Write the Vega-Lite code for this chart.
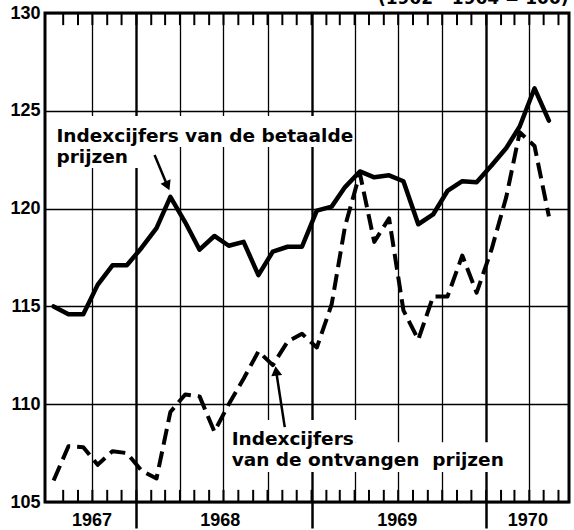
{
  "$schema": "https://vega.github.io/schema/vega-lite/v6.json",
  "width": 524,
  "height": 489,
  "autosize": {"type": "none"},
  "padding": {"left": 45, "top": 13, "right": 5, "bottom": 28},
  "background": "white",
  "view": {"stroke": "black", "strokeWidth": 3},
  "config": {
    "font": "DejaVu Sans",
    "axis": {"gridColor": "black", "tickColor": "black", "domainColor": "black", "labelColor": "black", "labelFont": "Liberation Sans", "labelFontWeight": "bold", "labelFontSize": 18, "labelFlush": false, "labelOverlap": false}
  },
  "datasets": {
    "betaalde": [
      {"month": "1967-07-12", "index": 115.0},
      {"month": "1967-08-12", "index": 114.6},
      {"month": "1967-09-12", "index": 114.6},
      {"month": "1967-10-12", "index": 116.1},
      {"month": "1967-11-12", "index": 117.1},
      {"month": "1967-12-12", "index": 117.1},
      {"month": "1968-01-12", "index": 118.0},
      {"month": "1968-02-12", "index": 119.0},
      {"month": "1968-03-12", "index": 120.6},
      {"month": "1968-04-12", "index": 119.3},
      {"month": "1968-05-12", "index": 117.9},
      {"month": "1968-06-12", "index": 118.6},
      {"month": "1968-07-12", "index": 118.1},
      {"month": "1968-08-12", "index": 118.3},
      {"month": "1968-09-12", "index": 116.6},
      {"month": "1968-10-12", "index": 117.8},
      {"month": "1968-11-12", "index": 118.05},
      {"month": "1968-12-12", "index": 118.05},
      {"month": "1969-01-12", "index": 119.9},
      {"month": "1969-02-12", "index": 120.1},
      {"month": "1969-03-12", "index": 121.1},
      {"month": "1969-04-12", "index": 121.9},
      {"month": "1969-05-12", "index": 121.6},
      {"month": "1969-06-12", "index": 121.7},
      {"month": "1969-07-12", "index": 121.4},
      {"month": "1969-08-12", "index": 119.2},
      {"month": "1969-09-12", "index": 119.7},
      {"month": "1969-10-12", "index": 120.9},
      {"month": "1969-11-12", "index": 121.4},
      {"month": "1969-12-12", "index": 121.35},
      {"month": "1970-01-12", "index": 122.2},
      {"month": "1970-02-12", "index": 123.1},
      {"month": "1970-03-12", "index": 124.2},
      {"month": "1970-04-12", "index": 126.15},
      {"month": "1970-05-12", "index": 124.5}
    ],
    "ontvangen": [
      {"month": "1967-07-12", "index": 106.1},
      {"month": "1967-08-12", "index": 107.85},
      {"month": "1967-09-12", "index": 107.8},
      {"month": "1967-10-12", "index": 106.9},
      {"month": "1967-11-12", "index": 107.6},
      {"month": "1967-12-12", "index": 107.5},
      {"month": "1968-01-12", "index": 106.6},
      {"month": "1968-02-12", "index": 106.2},
      {"month": "1968-03-12", "index": 109.6},
      {"month": "1968-04-12", "index": 110.5},
      {"month": "1968-05-12", "index": 110.4},
      {"month": "1968-06-12", "index": 108.6},
      {"month": "1968-07-12", "index": 110.0},
      {"month": "1968-08-12", "index": 111.3},
      {"month": "1968-09-12", "index": 112.7},
      {"month": "1968-10-12", "index": 112.0},
      {"month": "1968-11-12", "index": 113.2},
      {"month": "1968-12-12", "index": 113.6},
      {"month": "1969-01-12", "index": 112.9},
      {"month": "1969-02-12", "index": 115.1},
      {"month": "1969-03-12", "index": 119.1},
      {"month": "1969-04-12", "index": 121.8},
      {"month": "1969-05-12", "index": 118.3},
      {"month": "1969-06-12", "index": 119.5},
      {"month": "1969-07-12", "index": 114.8},
      {"month": "1969-08-12", "index": 113.3},
      {"month": "1969-09-12", "index": 115.5},
      {"month": "1969-10-12", "index": 115.5},
      {"month": "1969-11-12", "index": 117.6},
      {"month": "1969-12-12", "index": 115.7},
      {"month": "1970-01-12", "index": 117.9},
      {"month": "1970-02-12", "index": 120.6},
      {"month": "1970-03-12", "index": 123.9},
      {"month": "1970-04-12", "index": 123.2},
      {"month": "1970-05-12", "index": 119.6}
    ],
    "ticks": [
      {"tick": "1967-08-01"}, {"tick": "1967-09-01"}, {"tick": "1967-10-01"}, {"tick": "1967-11-01"}, {"tick": "1967-12-01"},
      {"tick": "1968-01-01"}, {"tick": "1968-02-01"}, {"tick": "1968-03-01"}, {"tick": "1968-04-01"}, {"tick": "1968-05-01"}, {"tick": "1968-06-01"},
      {"tick": "1968-07-01"}, {"tick": "1968-08-01"}, {"tick": "1968-09-01"}, {"tick": "1968-10-01"}, {"tick": "1968-11-01"}, {"tick": "1968-12-01"},
      {"tick": "1969-01-01"}, {"tick": "1969-02-01"}, {"tick": "1969-03-01"}, {"tick": "1969-04-01"}, {"tick": "1969-05-01"}, {"tick": "1969-06-01"},
      {"tick": "1969-07-01"}, {"tick": "1969-08-01"}, {"tick": "1969-09-01"}, {"tick": "1969-10-01"}, {"tick": "1969-11-01"}, {"tick": "1969-12-01"},
      {"tick": "1970-01-01"}, {"tick": "1970-02-01"}, {"tick": "1970-03-01"}, {"tick": "1970-04-01"}, {"tick": "1970-05-01"}, {"tick": "1970-06-01"}
    ],
    "boxes": [
      {"from": "1967-07-08", "to": "1969-03-28", "top": 124.74, "bottom": 123.15},
      {"from": "1967-07-08", "to": "1968-01-08", "top": 123.15, "bottom": 122.08},
      {"from": "1968-07-10", "to": "1969-04-12", "top": 109.19, "bottom": 108.06},
      {"from": "1968-07-10", "to": "1970-03-02", "top": 108.06, "bottom": 106.53}
    ],
    "arrows": [
      {"id": "a", "from": "1968-02-08", "start": 122.74, "to": "1968-03-06", "end": 121.16},
      {"id": "b", "from": "1968-11-06", "start": 108.83, "to": "1968-10-19", "end": 111.7}
    ],
    "notes": [
      {"at": "1967-07-18", "index": 123.42, "label": ["Indexcijfers van de betaalde", "prijzen"]},
      {"at": "1968-07-18", "index": 107.91, "label": ["Indexcijfers", "van de ontvangen\u00a0 prijzen"]}
    ],
    "base": [
      {"at": "1970-06-22", "index": 130.46, "label": "(1962 - 1964 = 100)"}
    ]
  },
  "layer": [
    {
      "data": {"name": "boxes"},
      "mark": {"type": "rect", "fill": "white", "strokeWidth": 0},
      "encoding": {
        "x": {"field": "from", "type": "temporal",
          "scale": {"type": "time", "domain": [{"year": 1967, "month": 6, "date": 24}, {"year": 1970, "month": 6, "date": 23}]},
          "axis": {"orient": "bottom", "title": null, "labels": false, "ticks": false, "domain": false, "grid": true,
            "gridWidth": {"condition": {"test": "month(datum.value) === 0", "value": 2.4}, "value": 1.3},
            "values": [
              {"year": 1967, "month": 10, "date": 1},
              {"year": 1968, "month": 1, "date": 1}, {"year": 1968, "month": 4, "date": 1}, {"year": 1968, "month": 7, "date": 1}, {"year": 1968, "month": 10, "date": 1},
              {"year": 1969, "month": 1, "date": 1}, {"year": 1969, "month": 4, "date": 1}, {"year": 1969, "month": 7, "date": 1}, {"year": 1969, "month": 10, "date": 1},
              {"year": 1970, "month": 1, "date": 1}, {"year": 1970, "month": 4, "date": 1}
            ]}},
        "x2": {"field": "to"},
        "y": {"field": "top", "type": "quantitative",
          "scale": {"domain": [105, 130], "nice": false, "zero": false},
          "axis": {"orient": "left", "title": null, "values": [105, 110, 115, 120, 125, 130], "grid": true, "gridWidth": 1.5, "gridColor": "black", "ticks": false, "domain": false, "labelPadding": 5, "labels": true}},
        "y2": {"field": "bottom"}
      }
    },
    {
      "data": {"name": "ticks"},
      "mark": {"type": "rule", "color": "black", "strokeWidth": 2},
      "encoding": {
        "x": {"field": "tick", "type": "temporal", "axis": null},
        "y": {"datum": 130, "type": "quantitative", "axis": null},
        "y2": {"datum": 129.38}
      }
    },
    {
      "data": {"name": "ticks"},
      "mark": {"type": "rule", "color": "black", "strokeWidth": 2},
      "encoding": {
        "x": {"field": "tick", "type": "temporal", "axis": null},
        "y": {"datum": 105, "type": "quantitative", "axis": null},
        "y2": {"datum": 105.62}
      }
    },
    {
      "data": {"name": "betaalde"},
      "mark": {"type": "line", "color": "black", "strokeWidth": 4.5, "strokeJoin": "round", "strokeCap": "round"},
      "encoding": {
        "x": {"field": "month", "type": "temporal",
          "axis": {"orient": "bottom", "title": null, "ticks": false, "domain": false, "grid": false, "labelPadding": 9, "format": "%Y",
            "values": [{"year": 1967, "month": 9, "date": 29}, {"year": 1968, "month": 6, "date": 23}, {"year": 1969, "month": 6, "date": 28}, {"year": 1970, "month": 3, "date": 28}]}},
        "y": {"field": "index", "type": "quantitative", "axis": null}
      }
    },
    {
      "data": {"name": "ontvangen"},
      "mark": {"type": "line", "color": "black", "strokeWidth": 4, "strokeDash": [16, 7], "strokeCap": "butt", "strokeJoin": "round"},
      "encoding": {
        "x": {"field": "month", "type": "temporal", "axis": null},
        "y": {"field": "index", "type": "quantitative", "axis": null}
      }
    },
    {
      "data": {"name": "arrows"},
      "mark": {"type": "rule", "color": "black", "strokeWidth": 2.5},
      "encoding": {
        "x": {"field": "from", "type": "temporal", "axis": null},
        "x2": {"field": "to"},
        "y": {"field": "start", "type": "quantitative", "axis": null},
        "y2": {"field": "end"}
      }
    },
    {
      "data": {"name": "arrows"},
      "transform": [{"filter": "datum.id === 'a'"}],
      "mark": {"type": "point", "shape": "triangle-down", "angle": -24, "filled": true, "color": "black", "opacity": 1, "size": 120},
      "encoding": {
        "x": {"field": "to", "type": "temporal",
          "axis": {"orient": "bottom", "title": null, "labels": false, "domain": false, "grid": false, "tickSize": 26, "tickWidth": 2.5,
            "values": [{"year": 1968, "month": 1, "date": 1}, {"year": 1969, "month": 1, "date": 1}, {"year": 1970, "month": 1, "date": 1}]}},
        "y": {"field": "end", "type": "quantitative", "axis": null}
      }
    },
    {
      "data": {"name": "arrows"},
      "transform": [{"filter": "datum.id === 'b'"}],
      "mark": {"type": "point", "shape": "triangle-up", "angle": -7, "filled": true, "color": "black", "opacity": 1, "size": 120},
      "encoding": {
        "x": {"field": "to", "type": "temporal", "axis": null},
        "y": {"field": "end", "type": "quantitative", "axis": null}
      }
    },
    {
      "data": {"name": "notes"},
      "mark": {"type": "text", "align": "left", "baseline": "alphabetic", "font": "DejaVu Sans", "fontWeight": "bold", "fontSize": 18.5, "lineHeight": 21, "color": "black"},
      "encoding": {
        "x": {"field": "at", "type": "temporal", "axis": null},
        "y": {"field": "index", "type": "quantitative", "axis": null},
        "text": {"field": "label"}
      }
    },
    {
      "data": {"name": "base"},
      "mark": {"type": "text", "align": "right", "baseline": "alphabetic", "font": "DejaVu Sans", "fontWeight": "bold", "fontSize": 17, "color": "black"},
      "encoding": {
        "x": {"field": "at", "type": "temporal", "axis": null},
        "y": {"field": "index", "type": "quantitative", "axis": null},
        "text": {"field": "label"}
      }
    }
  ],
  "resolve": {"axis": {"x": "independent", "y": "independent"}}
}
